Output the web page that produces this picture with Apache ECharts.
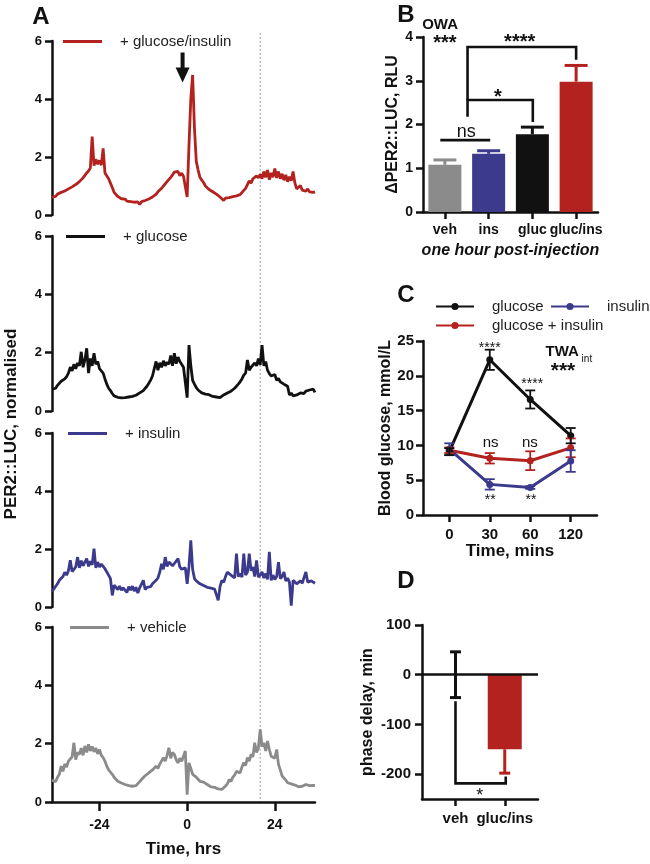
<!DOCTYPE html>
<html><head><meta charset="utf-8">
<script src="https://cdn.jsdelivr.net/npm/echarts@6/dist/echarts.min.js"></script>
<style>html,body{margin:0;padding:0;background:#fff}#c{width:650px;height:864px}</style>
</head><body><div id="c"></div>
<script>
const FONT = '"Liberation Sans", Arial, Helvetica, sans-serif';

// ---------- Panel A : PER2::LUC traces (sampled every 0.5 h from -37 h) ----------
const A_T_START = -37, A_T_STEP = 0.5;
const A_GLUC_INS = [
  0.62,0.68,0.64,0.72,0.70,0.78,0.74,0.83,0.80,0.90,
  0.86,0.97,0.95,1.05,1.02,1.15,1.12,1.28,1.30,1.45,
  1.52,1.62,2.70,1.70,1.92,1.75,1.88,1.72,2.30,1.45,
  1.40,1.25,1.10,0.95,0.78,0.72,0.64,0.60,0.56,0.52,
  0.55,0.48,0.50,0.46,0.49,0.44,0.47,0.45,0.36,0.46,
  0.43,0.50,0.48,0.55,0.58,0.62,0.68,0.72,0.80,0.85,
  0.92,1.00,1.05,1.15,1.20,1.30,1.38,1.48,1.42,1.50,
  1.36,1.44,1.34,1.40,0.62,2.40,4.00,4.83,3.00,1.85,
  1.55,1.30,1.20,1.12,1.00,0.98,0.88,0.92,0.80,0.78,
  0.72,0.70,0.62,0.56,0.50,0.58,0.55,0.60,0.58,0.63,
  0.60,0.66,0.64,0.70,0.76,0.85,0.92,1.05,1.18,1.10,
  1.25,1.20,1.35,1.28,1.40,1.25,1.50,1.30,1.55,1.22,
  1.45,1.30,1.60,1.28,1.50,1.25,1.42,1.20,1.38,1.15,
  1.32,1.18,1.50,1.10,0.90,0.85,1.02,0.86,0.92,0.82,
  0.90,0.80,0.86,0.78,0.80];
const A_GLUC = [
  0.75,0.80,0.78,0.88,0.92,1.02,0.98,1.10,1.18,1.30,
  1.50,1.38,1.60,1.45,1.65,1.55,2.03,1.50,1.75,2.15,
  1.30,1.80,1.55,1.98,1.60,1.70,1.45,1.50,1.30,1.10,
  0.92,0.78,0.70,0.60,0.52,0.50,0.47,0.48,0.45,0.47,
  0.46,0.50,0.48,0.52,0.50,0.56,0.54,0.60,0.62,0.68,
  0.70,0.78,0.85,0.95,1.06,1.20,1.45,1.70,1.40,1.65,
  1.50,1.72,1.55,1.68,1.60,1.90,1.55,1.98,1.62,1.85,
  1.70,1.75,1.50,1.55,0.46,2.26,1.55,1.05,0.92,0.80,
  0.72,0.66,0.62,0.60,0.58,0.55,0.56,0.52,0.50,0.50,
  0.48,0.43,0.46,0.50,0.55,0.58,0.62,0.60,0.68,0.72,
  0.78,0.85,0.92,1.00,1.10,1.23,1.30,1.75,1.40,1.50,
  1.45,1.65,1.55,1.80,1.58,2.26,1.55,1.70,1.40,1.28,
  1.20,1.15,1.25,1.05,1.12,1.00,1.05,0.92,0.98,0.85,
  0.55,0.62,0.52,0.58,0.55,0.60,0.62,0.66,0.60,0.68,
  0.65,0.72,0.70,0.75,0.64];
const A_INS = [
  0.55,0.62,0.68,0.80,0.92,0.88,1.05,1.20,1.10,1.25,
  1.61,1.22,1.30,1.38,1.72,1.35,1.60,1.42,1.55,1.67,
  1.40,1.58,1.45,2.01,1.35,1.55,1.38,1.48,1.44,1.32,
  1.35,1.10,0.98,0.40,0.75,0.68,0.60,0.72,0.58,0.66,
  0.62,0.50,0.70,0.58,0.72,0.55,0.68,0.48,0.66,0.62,
  0.92,0.60,0.68,0.72,0.70,0.80,0.85,0.92,1.00,1.20,
  1.49,1.30,1.72,1.40,1.55,1.61,1.42,1.50,1.58,1.67,
  1.38,1.30,1.26,1.35,0.80,1.40,2.30,1.30,0.98,0.90,
  0.85,0.80,0.76,0.74,0.71,0.68,0.66,0.65,0.63,0.62,
  0.65,0.23,0.70,0.92,0.85,1.05,1.20,1.26,1.10,1.15,
  1.00,1.84,1.05,1.15,1.03,1.84,1.10,1.20,1.84,1.25,
  1.38,1.05,1.61,1.03,1.10,1.21,1.00,1.15,0.95,1.90,
  0.92,1.10,0.95,1.05,1.55,0.98,1.05,1.21,0.90,1.00,
  0.86,0.05,0.92,0.95,0.80,0.85,0.90,0.82,0.88,1.21,
  0.86,0.82,0.90,0.85,0.82];
const A_VEH = [
  0.75,0.78,0.70,0.85,0.95,1.23,1.05,1.30,1.20,1.40,
  1.34,1.55,2.03,1.45,1.70,1.63,1.85,1.60,1.92,1.70,
  1.98,1.75,1.90,1.72,1.85,1.65,1.80,1.60,1.52,1.40,
  1.23,1.10,1.06,0.95,0.85,0.78,0.71,0.68,0.65,0.62,
  0.60,0.58,0.56,0.55,0.54,0.52,0.56,0.62,0.70,0.77,
  0.80,0.90,0.85,1.00,0.95,1.10,1.05,1.23,1.15,1.30,
  1.25,1.52,1.40,1.60,1.86,1.50,1.70,1.63,1.45,1.34,
  1.50,1.40,1.46,1.75,0.25,1.34,1.15,0.95,0.89,0.85,
  0.78,0.71,0.72,0.68,0.62,0.60,0.56,0.52,0.54,0.50,
  0.48,0.45,0.46,0.43,0.48,0.55,0.62,0.77,0.70,0.85,
  0.92,1.05,1.11,1.00,1.20,1.35,1.25,1.52,1.40,1.63,
  1.55,2.03,1.70,1.85,2.49,1.90,2.03,1.75,2.09,1.80,
  1.57,1.60,1.50,1.80,1.29,1.10,0.89,0.82,0.75,0.66,
  0.68,0.62,0.60,0.58,0.55,0.52,0.56,0.54,0.58,0.60,
  0.60,0.56,0.62,0.57,0.56];
const A_NAMES = ['+ glucose/insulin', '+ glucose', '+ insulin', '+ vehicle'];
const A_X_TICKS = [-24, 0, 24];
const A_DASH_T = 20;        // dotted reference line, hrs
const A_INJECTION_T = -1.25; // arrow position, hrs

// ---------- Panel B ----------
const B_CATS = ['veh', 'ins', 'gluc', 'gluc/ins'];
const B_MEAN = [1.08, 1.33, 1.78, 2.98];
const B_SEM  = [0.11, 0.07, 0.16, 0.37];

// ---------- Panel C ----------
const C_TIMES = ['0', '30', '60', '120'];
const C_GLUC = [9.1, 22.3, 16.6, 11.4];
const C_GLUC_ERR = [0.5, 1.45, 1.3, 1.1];
const C_GI = [9.3, 8.15, 7.8, 9.65];
const C_GI_ERR = [0.4, 0.75, 1.35, 1.35];
const C_INS = [9.45, 4.4, 3.95, 7.75];
const C_INS_ERR = [0.85, 0.75, 0.2, 1.55];

// ---------- Panel D ----------
const D_CATS = ['veh', 'gluc/ins'];
const D_MEAN = [0, -150];
const D_SEM  = [46, 48];

// colours
const RED = '#b3221e', BLUE = '#3b3a8c', GREY = '#8b8b8b', BLACK = '#111111';

// ---------- annotations (data coordinates) ----------
const B_BRACKETS = [
  [[-0.105, 1.644], [1.036, 1.644]],
  [[0.518, 2.18], [0.518, 2.56], [2.01, 2.56], [2.01, 2.06]],
  [[0.518, 2.56], [0.518, 3.77], [3.0, 3.77], [3.0, 3.48]]
];
const B_TEXTS = [
  {x: 0.49, y: 1.835, text: 'ns', kind: 'nsB'},
  {x: 1.21, y: 2.72, text: '*', kind: 'starB'},
  {x: 1.71, y: 3.98, text: '****', kind: 'starB'},
  {x: -0.11, y: 4.28, text: 'OWA', kind: 'head'},
  {x: 0.0, y: 3.96, text: '***', kind: 'starB'}
];
const C_TEXTS = [
  {x: 1.0, y: 24.5, text: '****', kind: 'starS'},
  {x: 2.05, y: 19.2, text: '****', kind: 'starS'},
  {x: 1.02, y: 10.3, text: 'ns', kind: 'nsC'},
  {x: 1.99, y: 10.3, text: 'ns', kind: 'nsC'},
  {x: 1.01, y: 2.58, text: '**', kind: 'starS'},
  {x: 2.02, y: 2.58, text: '**', kind: 'starS'},
  {x: 2.79, y: 23.5, text: 'TWA', kind: 'head'},
  {x: 3.27, y: 22.4, text: 'int', kind: 'sub'},
  {x: 2.81, y: 21.3, text: '***', kind: 'starBig'}
];
const D_BRACKETS = [
  [[0, -53.4], [0, -218.6], [1.02, -218.6], [1.02, -204.6]]
];
const D_TEXTS = [
  {x: 0.49, y: -235, text: '*', kind: 'starD'}
];

const TEXT_KIND = {
  nsB:   {fontSize: 18, fontWeight: 'normal', dy: 0},
  nsC:   {fontSize: 15, fontWeight: 'normal', dy: 0},
  starB: {fontSize: 20, fontWeight: 'bold', dy: 0.23},
  starS: {fontSize: 14, fontWeight: 'normal', dy: 0.23},
  starBig: {fontSize: 21, fontWeight: 'bold', dy: 0.23},
  starD: {fontSize: 18, fontWeight: 'normal', dy: 0.23},
  head:  {fontSize: 15, fontWeight: 'bold', dy: 0},
  sub:   {fontSize: 10, fontWeight: 'normal', dy: 0}
};

function tracePairs(arr) { return arr.map((v, i) => [A_T_START + i * A_T_STEP, v]); }

function ax(o) {
  const a = {
    type: o.type || 'value', gridIndex: o.g,
    axisLine: {show: true, onZero: false, lineStyle: {color: BLACK, width: 2.5}},
    axisTick: {show: true, length: o.tick || 7, alignWithLabel: true, lineStyle: {color: BLACK, width: 2.5}},
    axisLabel: {show: true, interval: 0, color: BLACK, fontWeight: 'bold', fontSize: o.fs || 14, fontFamily: FONT, margin: o.margin || 10},
    splitLine: {show: false}
  };
  if (o.min !== undefined) a.min = o.min;
  if (o.max !== undefined) a.max = o.max;
  if (o.interval !== undefined) a.interval = o.interval;
  if (o.data) a.data = o.data;
  if (o.custom) { a.axisTick.customValues = o.custom; a.axisLabel.customValues = o.custom; }
  if (o.fmt) a.axisLabel.formatter = o.fmt;
  if (o.name) {
    a.name = o.name; a.nameLocation = 'middle'; a.nameGap = o.gap;
    a.nameTextStyle = {color: BLACK, fontWeight: 'bold', fontSize: o.nfs || 16, fontFamily: FONT, fontStyle: o.italic ? 'italic' : 'normal'};
  }
  if (o.show === false) a.show = false;
  return a;
}

function errSeries(xi, rows, colors, capW, lw, capBoth) {
  return {
    type: 'custom', xAxisIndex: xi, yAxisIndex: xi, clip: false, silent: true, z: 6,
    data: rows,
    renderItem: (params, api) => {
      const x = api.value(0), a = api.value(1), b = api.value(2);
      const pa = api.coord([x, a]), pb = api.coord([x, b]);
      const col = colors[params.dataIndex];
      const st = {stroke: col, lineWidth: lw};
      const ch = [
        {type: 'line', shape: {x1: pa[0], y1: pa[1], x2: pb[0], y2: pb[1]}, style: st},
        {type: 'line', shape: {x1: pb[0] - capW / 2, y1: pb[1], x2: pb[0] + capW / 2, y2: pb[1]}, style: st}
      ];
      if (capBoth) ch.push({type: 'line', shape: {x1: pa[0] - capW / 2, y1: pa[1], x2: pa[0] + capW / 2, y2: pa[1]}, style: st});
      return {type: 'group', children: ch};
    }
  };
}

function annoSeries(xi, brackets, texts) {
  return {
    type: 'custom', xAxisIndex: xi, yAxisIndex: xi, clip: false, silent: true, z: 7,
    data: [[0, 0]],
    renderItem: (params, api) => {
      const ch = [];
      brackets.forEach(pts => ch.push({
        type: 'polyline', shape: {points: pts.map(p => api.coord(p))},
        style: {stroke: BLACK, lineWidth: 2.6, fill: 'none'}
      }));
      texts.forEach(t => {
        const k = TEXT_KIND[t.kind];
        const c = api.coord([t.x, t.y]);
        ch.push({type: 'text', x: c[0], y: c[1] + k.dy * k.fontSize, style: {
          text: t.text, fill: BLACK, fontSize: k.fontSize, fontWeight: k.fontWeight, fontFamily: FONT,
          align: t.kind === 'sub' ? 'left' : 'center', verticalAlign: 'middle'}});
      });
      return {type: 'group', children: ch};
    }
  };
}

const aGrids = [
  {left: 52, top: 41, width: 263, height: 174},
  {left: 52, top: 236, width: 263, height: 175},
  {left: 52, top: 433, width: 263, height: 174},
  {left: 52, top: 627, width: 263, height: 175}
];
const grids = aGrids.concat([
  {left: 423, top: 37, width: 175, height: 175},
  {left: 423, top: 341, width: 174, height: 174},
  {left: 422, top: 625, width: 116, height: 174}
]).map(g => Object.assign({containLabel: false, outerBoundsMode: 'none'}, g));

const xAxes = [0, 1, 2].map(i => ax({g: i, min: -37, max: 35, show: false}));
xAxes.push(ax({g: 3, min: -37, max: 35, custom: A_X_TICKS, fmt: v => String(v), tick: 9, margin: 16,
  name: 'Time, hrs', gap: 39, nfs: 17}));
xAxes.push(ax({g: 4, min: -0.5, max: 3.5, custom: [0, 1, 2, 3], fmt: v => B_CATS[v], margin: 11,
  name: 'one hour post-injection', gap: 31, italic: true, nfs: 16}));
xAxes.push(ax({g: 5, min: -0.65, max: 3.65, custom: [0, 1, 2, 3], fmt: v => C_TIMES[v], fs: 15, margin: 12,
  name: 'Time, mins', gap: 28, nfs: 17}));
xAxes.push(ax({g: 6, min: -0.68, max: 1.675, custom: [0, 1], fmt: v => D_CATS[v], fs: 15, margin: 12}));

const yAxes = [0, 1, 2, 3].map(i => ax({g: i, min: 0, max: 6, interval: 2, fs: 13, margin: 10}));
yAxes.push(ax({g: 4, min: 0, max: 4, interval: 1, fs: 14, margin: 10, name: '\u0394PER2::LUC, RLU', gap: 22, nfs: 16}));
yAxes.push(ax({g: 5, min: 0, max: 25, interval: 5, fs: 15, margin: 9, name: 'Blood glucose, mmol/L', gap: 24, nfs: 16}));
yAxes.push(ax({g: 6, min: -250, max: 100, custom: [-200, -100, 0, 100], fs: 15, margin: 11, name: 'phase delay, min', gap: 46, nfs: 16}));

const traceData = [A_GLUC_INS, A_GLUC, A_INS, A_VEH];
const traceColors = [RED, BLACK, BLUE, GREY];
const series = traceData.map((arr, i) => ({
  name: A_NAMES[i], type: 'line', xAxisIndex: i, yAxisIndex: i, data: tracePairs(arr),
  symbol: 'none', lineStyle: {color: traceColors[i], width: 2.8}, itemStyle: {color: traceColors[i]}, z: 3
}));
series[0].markPoint = {
  symbol: 'path://M5,0L9,0L9,15L14,15L7,30L0,15L5,15Z', symbolSize: [14, 30], silent: true,
  itemStyle: {color: BLACK}, label: {show: false},
  data: [{coord: [A_INJECTION_T, 5.09]}]
};

// Panel B bars + error bars
series.push({
  type: 'bar', xAxisIndex: 4, yAxisIndex: 4, barWidth: 33, z: 3,
  data: B_MEAN.map((v, i) => ({value: [i, v], itemStyle: {color: [GREY, BLUE, BLACK, RED][i]}}))
});
series.push(errSeries(4, B_MEAN.map((v, i) => [i, v, v + B_SEM[i]]), [GREY, BLUE, BLACK, RED], 23, 3, false));
series.push(annoSeries(4, B_BRACKETS, B_TEXTS));

// Panel C lines
const cSets = [
  {name: 'glucose + insulin', d: C_GI, e: C_GI_ERR, c: RED},
  {name: 'insulin', d: C_INS, e: C_INS_ERR, c: BLUE},
  {name: 'glucose', d: C_GLUC, e: C_GLUC_ERR, c: BLACK}
];
cSets.forEach(s => {
  series.push({name: s.name, type: 'line', xAxisIndex: 5, yAxisIndex: 5, data: s.d.map((v, i) => [i, v]),
    symbol: 'circle', symbolSize: 7, lineStyle: {color: s.c, width: 3}, itemStyle: {color: s.c}, z: 4});
  series.push(errSeries(5, s.d.map((v, i) => [i, v - s.e[i], v + s.e[i]]), s.d.map(() => s.c), 10, 1.8, true));
});
series.push(annoSeries(5, [], C_TEXTS));

// Panel D
series.push({
  type: 'bar', xAxisIndex: 6, yAxisIndex: 6, barWidth: 34, z: 3,
  data: D_MEAN.map((v, i) => ({value: [i, v], itemStyle: {color: [BLACK, RED][i]}})),
  markLine: {silent: true, symbol: ['none', 'none'], label: {show: false},
    lineStyle: {color: BLACK, width: 2.6, type: 'solid'}, data: [{yAxis: 0}]}
});
series.push(errSeries(6, [[0, -D_SEM[0], D_SEM[0]], [1, D_MEAN[1], D_MEAN[1] - D_SEM[1]]], [BLACK, RED], 11, 3, false));
series.push(errSeries(6, [[0, D_SEM[0], -D_SEM[0]]], [BLACK], 11, 3, false));
series.push(annoSeries(6, D_BRACKETS, D_TEXTS));

const legendText = {color: '#222', fontSize: 15, fontFamily: FONT, padding: [0, 0, 0, 13]};
const aLegendPos = [[63, 34], [66, 229], [68, 426], [70, 620]];
const legends = A_NAMES.map((n, i) => ({
  data: [n], left: aLegendPos[i][0], top: aLegendPos[i][1], padding: 0, itemWidth: 39, itemHeight: 3,
  icon: 'rect', textStyle: legendText, selectedMode: false
}));
legends.push({data: ['glucose'], left: 435, top: 299, padding: 0, itemWidth: 38, itemHeight: 9, textStyle: legendText, selectedMode: false});
legends.push({data: ['insulin'], left: 550, top: 299, padding: 0, itemWidth: 38, itemHeight: 9, textStyle: legendText, selectedMode: false});
legends.push({data: ['glucose + insulin'], left: 435, top: 318, padding: 0, itemWidth: 38, itemHeight: 9, textStyle: legendText, selectedMode: false});

const letter = (t, x, y) => ({type: 'text', x: x, y: y, style: {text: t, fill: BLACK, fontSize: 24, fontWeight: 'bold', fontFamily: FONT, align: 'center', verticalAlign: 'middle'}});
const staticGraphics = () => [
  letter('A', 41, 17), letter('B', 406, 15), letter('C', 406, 295), letter('D', 406, 581),
  {type: 'text', x: 11, y: 424, rotation: Math.PI / 2, style: {text: 'PER2::LUC, normalised', fill: BLACK,
    fontSize: 17, fontWeight: 'bold', fontFamily: FONT, align: 'center', verticalAlign: 'middle'}}
];

const chart = echarts.init(document.getElementById('c'), null, {renderer: 'canvas', width: 650, height: 864});
chart.setOption({
  animation: false,
  backgroundColor: '#ffffff',
  grid: grids, xAxis: xAxes, yAxis: yAxes, series: series, legend: legends,
  graphic: staticGraphics()
});
const pTop = chart.convertToPixel({gridIndex: 0}, [A_DASH_T, 6.28]);
const pBot = chart.convertToPixel({gridIndex: 3}, [A_DASH_T, 0]);
chart.setOption({graphic: staticGraphics().concat([
  {type: 'line', z: 0, silent: true, shape: {x1: pTop[0], y1: pTop[1], x2: pBot[0], y2: pBot[1]},
    style: {stroke: '#9a9a9a', lineWidth: 1, lineDash: [2, 2]}}
])});
</script>
</body></html>
